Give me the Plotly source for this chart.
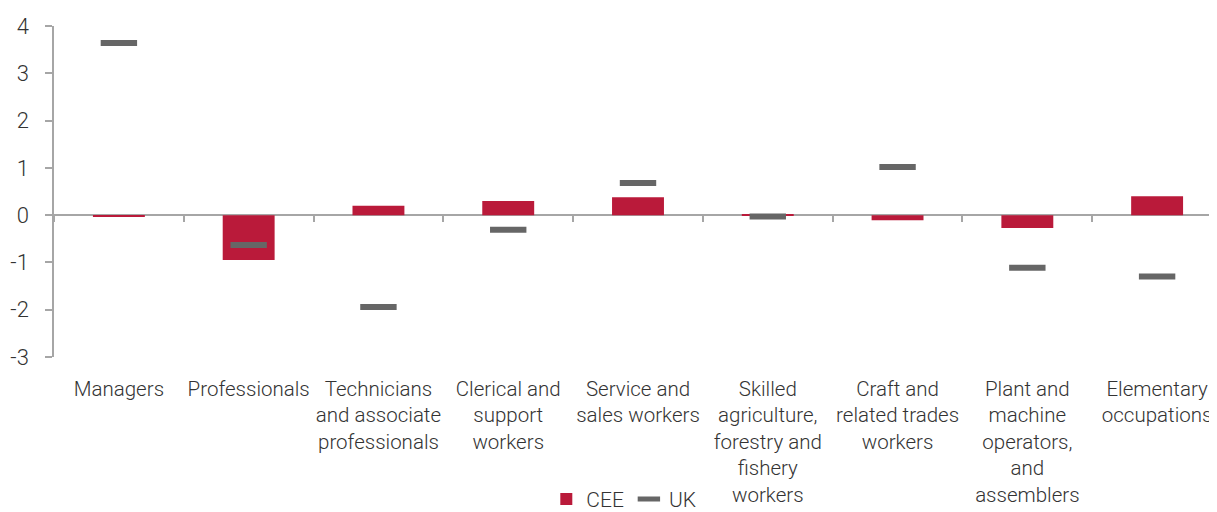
import plotly.graph_objects as go

categories = ["Managers", "Professionals", "Technicians and associate professionals",
              "Clerical and support workers", "Service and sales workers",
              "Skilled agriculture, forestry and fishery workers",
              "Craft and related trades workers",
              "Plant and machine operators, and assemblers", "Elementary occupations"]
tick_labels = ["Managers", "Professionals", "Technicians<br>and associate<br>professionals",
               "Clerical and<br>support<br>workers", "Service and<br>sales workers",
               "Skilled<br>agriculture,<br>forestry and<br>fishery<br>workers",
               "Craft and<br>related trades<br>workers",
               "Plant and<br>machine<br>operators,<br>and<br>assemblers", "Elementary<br>occupations"]
cee = [-0.02, -0.95, 0.20, 0.30, 0.38, 0.02, -0.11, -0.27, 0.40]
uk = [3.64, -0.63, -1.94, -0.31, 0.68, -0.03, 1.02, -1.11, -1.30]
y_ticks = [-3, -2, -1, 0, 1, 2, 3, 4]

FONT = dict(family="Roboto", size=21, color="#333333", weight=300)
XFONT = dict(family="Roboto", size=20.5, color="#333333", weight=300)
GRID = "#a6a6a6"

fig = go.Figure()
fig.add_trace(go.Bar(x=categories, y=cee, name="CEE", marker_color="#BA1A3A",
                     marker_line_width=0))
fig.add_trace(go.Scatter(x=categories, y=uk, name="UK", mode="markers",
                         marker=dict(symbol="line-ew", size=26, color="#666666",
                                     line=dict(width=6, color="#666666"))))
fig.add_trace(go.Scatter(x=categories, y=[0]*len(categories), xaxis="x2", mode="markers",
                         marker=dict(opacity=0), showlegend=False, hoverinfo="skip"))

fig.update_layout(
    width=1217, height=504,
    margin=dict(l=46, r=3, t=18, b=155),
    paper_bgcolor="white", plot_bgcolor="white",
    font=FONT,
    bargap=0.6,
    showlegend=True,
    legend=dict(orientation="h", x=0.506, xanchor="center", xref="container",
                y=0.025, yanchor="middle", yref="container",
                font=FONT, itemwidth=30, tracegroupgap=0),
    xaxis=dict(type="category", categoryorder="array", categoryarray=categories,
               tickmode="array", tickvals=categories, ticktext=tick_labels,
               showline=False, ticks="", showgrid=False, zeroline=False,
               range=[-0.5, 8.5], tickfont=XFONT, ticklabelstandoff=17, automargin=False),
    xaxis2=dict(type="category", categoryorder="array", categoryarray=categories,
                overlaying="x", anchor="free", position=3/7, side="bottom",
                range=[-0.5, 8.5], showticklabels=False, ticks="outside",
                tickson="boundaries", ticklen=6, tickwidth=1.5, tickcolor=GRID,
                showline=False, showgrid=False, zeroline=False, automargin=False),
    yaxis=dict(range=[-3, 4], tickmode="array", tickvals=y_ticks,
               ticktext=[str(v) for v in y_ticks],
               showline=True, linecolor=GRID, linewidth=1.5,
               ticks="outside", ticklen=7, tickwidth=1.5, tickcolor=GRID,
               showgrid=False, zeroline=True, zerolinecolor=GRID, zerolinewidth=2,
               tickfont=dict(family="Roboto", size=22, color="#333333", weight=300),
               ticklabelstandoff=12, automargin=False),
)
fig.write_html("out.html")
